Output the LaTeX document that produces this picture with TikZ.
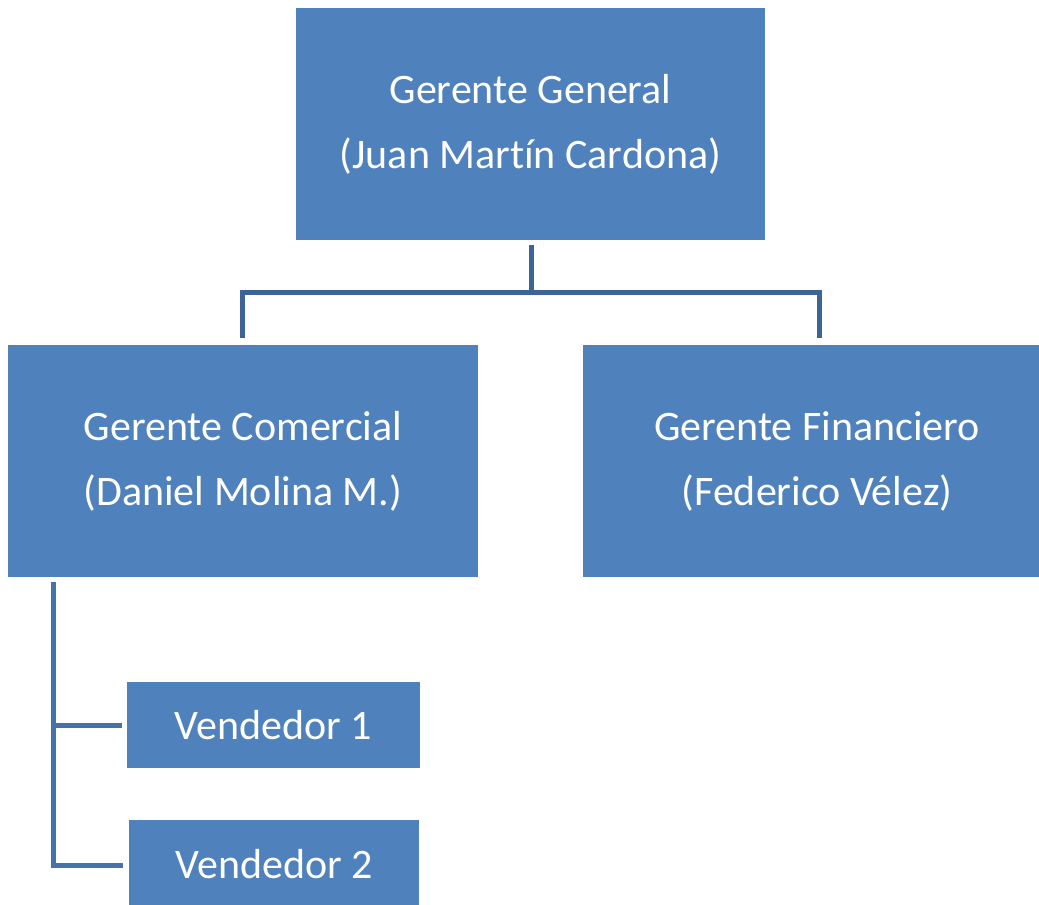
\documentclass[tikz,border=0pt]{standalone}
\usepackage{fontspec}
\setmainfont{Carlito}[Ligatures=NoCommon]
\usetikzlibrary{calc}
\definecolor{boxblue}{HTML}{4F81BD}
\definecolor{lineA}{HTML}{3C6496}
\definecolor{lineB}{HTML}{4672AA}
\begin{document}
\begin{tikzpicture}[x=1pt,y=-1pt,
  box/.style={fill=boxblue,draw=none,inner sep=0pt,text=white,align=center,
    font=\fontsize{42}{65}\selectfont},
  conn/.style={line width=5pt}]
\clip (0,0) rectangle (1039,905);
\useasboundingbox (0,0) rectangle (1039,905);
\node[box,minimum width=469pt,minimum height=232pt] (gg) at (530.5,124) {Gerente General\\(Juan Martín Cardona)};
\node[box,minimum width=470pt,minimum height=232pt] (gc) at (243,461) {Gerente Comercial\\(Daniel Molina M.)};
\node[box,minimum width=456pt,minimum height=232pt] (gf) at (811,461) {\hspace*{12pt}Gerente Financiero\\\hspace*{12pt}(Federico Vélez)};
\node[box,minimum width=293pt,minimum height=86pt] (v1) at (273.5,725) {Vendedor 1};
\node[box,minimum width=290pt,minimum height=90pt] (v2) at (274,865) {\raisebox{2pt}{Vendedor 2}};
% connectors
\coordinate (ggs) at ($(gg.south)+(0.5,5)$);
\coordinate (jL) at (242,292);
\coordinate (jR) at (819,292);
\coordinate (gcT) at (242,338);
\coordinate (gfT) at (819,338);
\draw[conn,lineA] (ggs) -- (ggs |- jL);
\draw[conn,lineA] (gcT) -- (jL) -- (jR) -- (gfT);
\coordinate (gcs) at (53.5,582);
\draw[conn,lineB] (gcs) |- ($(v2.west)+(-6,0)$);
\draw[conn,lineB] (53.5,725) -- ($(v1.west)+(-5,0)$);
\end{tikzpicture}
\end{document}
